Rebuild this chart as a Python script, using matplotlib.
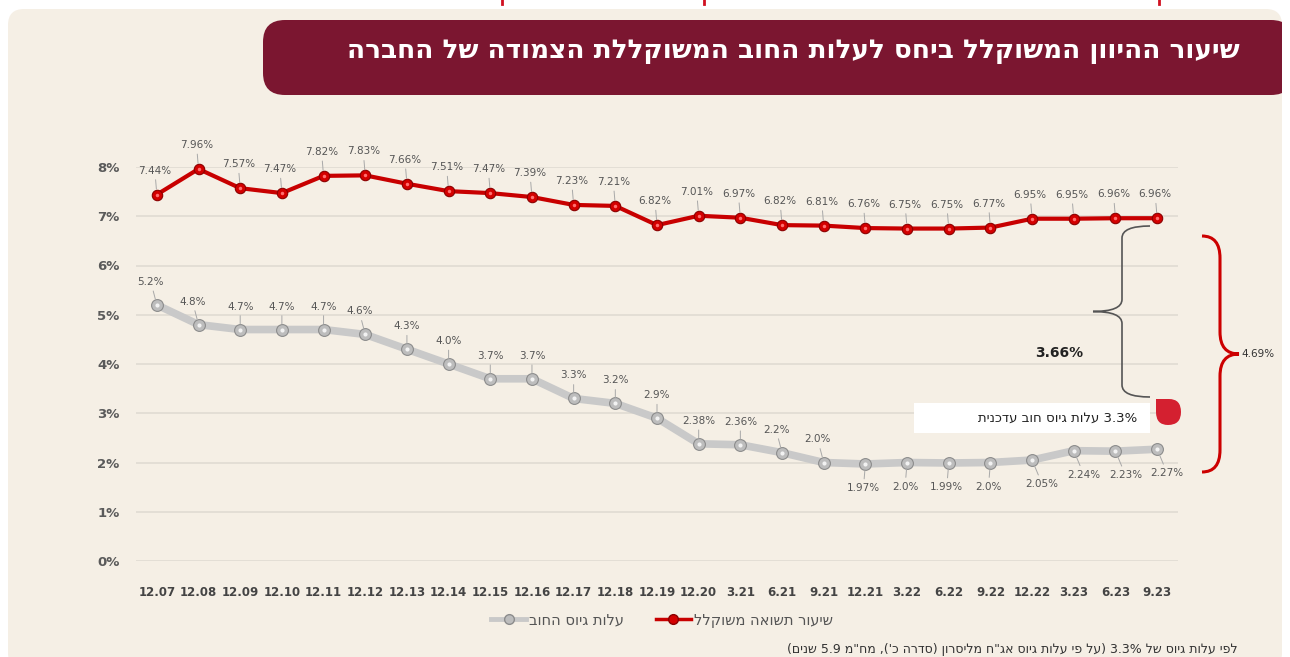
import re
import matplotlib
matplotlib.use("Agg")
import matplotlib.pyplot as plt
from matplotlib.patches import FancyBboxPatch, Rectangle, PathPatch
from matplotlib.path import Path
from matplotlib.lines import Line2D

plt.rcParams['font.family'] = ['DejaVu Sans']

# ---- data ----
periods = ["12.07", "12.08", "12.09", "12.10", "12.11", "12.12", "12.13", "12.14",
           "12.15", "12.16", "12.17", "12.18", "12.19", "12.20", "3.21", "6.21",
           "9.21", "12.21", "3.22", "6.22", "9.22", "12.22", "3.23", "6.23", "9.23"]
weighted_return = [7.44, 7.96, 7.57, 7.47, 7.82, 7.83, 7.66, 7.51, 7.47, 7.39, 7.23, 7.21,
                   6.82, 7.01, 6.97, 6.82, 6.81, 6.76, 6.75, 6.75, 6.77, 6.95, 6.95, 6.96, 6.96]
debt_cost = [5.2, 4.8, 4.7, 4.7, 4.7, 4.6, 4.3, 4.0, 3.7, 3.7, 3.3, 3.2,
             2.9, 2.38, 2.36, 2.2, 2.0, 1.97, 2.0, 1.99, 2.0, 2.05, 2.24, 2.23, 2.27]
debt_labels = ["5.2%", "4.8%", "4.7%", "4.7%", "4.7%", "4.6%", "4.3%", "4.0%", "3.7%", "3.7%",
               "3.3%", "3.2%", "2.9%", "2.38%", "2.36%", "2.2%", "2.0%", "1.97%", "2.0%",
               "1.99%", "2.0%", "2.05%", "2.24%", "2.23%", "2.27%"]
current_cost = 3.3
yticks = [0, 1, 2, 3, 4, 5, 6, 7, 8]

title = "שיעור ההיוון המשוקלל ביחס לעלות החוב המשוקללת הצמודה של החברה"
legend_return = "שיעור תשואה משוקלל"
legend_cost = "עלות גיוס החוב"
box_text = "3.3% עלות גיוס חוב עדכנית"
footnote = "לפי עלות גיוס של 3.3% (על פי עלות גיוס אג\"ח מליסרון (סדרה כ'), מח\"מ 5.9 שנים)"

MIRROR = str.maketrans("()", ")(")


def rtl(text):
    # crude visual ordering for hebrew with embedded numbers
    runs = re.findall(r'[0-9.%]+|[^0-9.%]+', text)
    out = []
    for r in reversed(runs):
        if re.fullmatch(r'[0-9.%]+', r):
            out.append(r)
        else:
            out.append(r[::-1].translate(MIRROR))
    return "".join(out)


W, H = 1290, 657
fig = plt.figure(figsize=(W / 100, H / 100), dpi=100)
fig.patch.set_facecolor("white")

# background layer in pixel coords
bg = fig.add_axes([0, 0, 1, 1], zorder=0)
bg.set_xlim(0, W)
bg.set_ylim(H, 0)
bg.axis("off")

cream = "#F5EFE5"
bg.add_patch(FancyBboxPatch((8, 9), 1274, 660, boxstyle="round,pad=0,rounding_size=16",
                            fc=cream, ec="none"))
bg.add_patch(FancyBboxPatch((263, 20), 1030, 75, boxstyle="round,pad=0,rounding_size=22",
                            fc="#7B1630", ec="none"))
bg.add_patch(Rectangle((1282, 0), 10, H, fc="white", ec="none"))
bg.text(1240, 51, rtl(title), color="white", fontsize=19, fontweight="bold",
        ha="right", va="center")
for tx in [502, 704, 1159]:
    bg.plot([tx, tx], [0, 4], color="#D01020", lw=2)

# main chart
ax = fig.add_axes([136 / W, 1 - 561 / H, (1178 - 136) / W, (561 - 167) / H], zorder=2)
ax.patch.set_alpha(0)
x = list(range(len(periods)))
ax.set_xlim(-0.5, len(periods) - 0.5)
ax.set_ylim(0, 8)
for s in ax.spines.values():
    s.set_visible(False)
ax.set_yticks(yticks)
ax.set_yticklabels([f"{t}%" for t in yticks], fontsize=9.5, fontweight="bold", color="#5a5a5a")
ax.set_xticks(x)
ax.set_xticklabels(periods, fontsize=8.5, fontweight="bold", color="#444444")
ax.tick_params(axis="y", length=0, pad=12)
ax.tick_params(axis="x", length=0, pad=18)
ax.grid(axis="y", color="#E2DDD4", lw=1.3)
ax.set_axisbelow(True)

ax.plot(x, debt_cost, color="#C9C9C9", lw=5.5, solid_capstyle="round", zorder=3, clip_on=False)
ax.plot(x, debt_cost, ls="none", marker="o", ms=8.5, mfc="#BDBDBD", mec="#8C8C8C", mew=0.8,
        zorder=4, clip_on=False)
ax.plot(x, debt_cost, ls="none", marker="o", ms=3, mfc="#F2F2F2", mec="none", zorder=5,
        clip_on=False)

ax.plot(x, weighted_return, color="#C80000", lw=3, zorder=3, clip_on=False)
ax.plot(x, weighted_return, ls="none", marker="o", ms=7.5, mfc="#D40000", mec="#8A0000", mew=0.8,
        zorder=4, clip_on=False)
ax.plot(x, weighted_return, ls="none", marker="o", ms=2.5, mfc="#FF7070", mec="none", zorder=5,
        clip_on=False)

lead = dict(arrowstyle="-", color="#A8A8A8", lw=0.7, shrinkA=1, shrinkB=4)
for i, v in enumerate(weighted_return):
    ax.annotate(f"{v:.2f}%", (i, v), xytext=(-2, 24), textcoords="offset pixels",
                ha="center", va="center", fontsize=7.5, color="#555555", arrowprops=lead,
                zorder=6)
for i, v in enumerate(debt_cost):
    if i < 17:
        dx, dy = (-6 if i in (0, 1, 5, 15, 16) else 0), 23
    else:
        dx, dy = (10 if i > 20 else -2), -24
    ax.annotate(debt_labels[i], (i, v), xytext=(dx, dy), textcoords="offset pixels",
                ha="center", va="center", fontsize=7.5, color="#555555", arrowprops=lead,
                zorder=6)


def brace(x_end, x_mid, x_tip, top, bottom, r):
    tip = (top + bottom) / 2
    verts = [(x_end, top), (x_mid, top), (x_mid, top + r), (x_mid, top + r),
             (x_mid, tip - r), (x_mid, tip), (x_tip, tip),
             (x_mid, tip), (x_mid, tip + r), (x_mid, tip + r),
             (x_mid, bottom - r), (x_mid, bottom), (x_end, bottom)]
    codes = [Path.MOVETO, Path.CURVE3, Path.CURVE3, Path.LINETO,
             Path.LINETO, Path.CURVE3, Path.CURVE3,
             Path.CURVE3, Path.CURVE3, Path.LINETO,
             Path.LINETO, Path.CURVE3, Path.CURVE3]
    return Path(verts, codes)


# annotation decorations (pixel coords)
bg_top = fig.add_axes([0, 0, 1, 1], zorder=3)
bg_top.set_xlim(0, W)
bg_top.set_ylim(H, 0)
bg_top.axis("off")
bg_top.patch.set_alpha(0)

bg_top.add_patch(PathPatch(brace(1150, 1122, 1093, 226, 397, 12), fc="none", ec="#555555", lw=1.2))
bg_top.add_patch(PathPatch(brace(1202, 1220, 1239, 236, 472, 22), fc="none", ec="#CC0000", lw=2.2))
bg_top.text(1059, 353, f"{weighted_return[-1] - current_cost:.2f}%", fontsize=10, fontweight="bold",
            color="#222222", ha="center", va="center")
bg_top.text(1241, 354, f"{weighted_return[-1] - debt_cost[-1]:.2f}%", fontsize=7.5,
            color="#333333", ha="left", va="center")

bg_top.add_patch(Rectangle((914, 403), 236, 30, fc="white", ec="none"))
bg_top.text(1137, 418, rtl(box_text), fontsize=9.5, color="#222222", ha="right", va="center")
drop = Path([(1156, 399), (1169, 399), (1181, 399), (1181, 412), (1181, 425), (1168, 425),
             (1156, 425), (1156, 412), (1156, 399)],
            [Path.MOVETO, Path.LINETO, Path.CURVE3, Path.CURVE3, Path.CURVE3, Path.CURVE3,
             Path.CURVE3, Path.CURVE3, Path.CLOSEPOLY])
bg_top.add_patch(PathPatch(drop, fc="#D42030", ec="none"))

bg_top.text(1238, 649, rtl(footnote), fontsize=9, color="#333333", ha="right", va="center")

h_cost = Line2D([], [], color="#C9C9C9", lw=3.5, marker="o", ms=7, mfc="#BDBDBD", mec="#8C8C8C")
h_ret = Line2D([], [], color="#C80000", lw=2.5, marker="o", ms=7, mfc="#D40000", mec="#8A0000")
fig.legend([h_cost, h_ret], [rtl(legend_cost), rtl(legend_return)], ncol=2, numpoints=1,
           loc="center", bbox_to_anchor=(662 / W, 1 - 620 / H), frameon=False,
           fontsize=10.5, labelcolor="#555555", handlelength=2.4, handletextpad=0.2,
           columnspacing=2.2)

fig.savefig("out.png", dpi=100, facecolor="white")
